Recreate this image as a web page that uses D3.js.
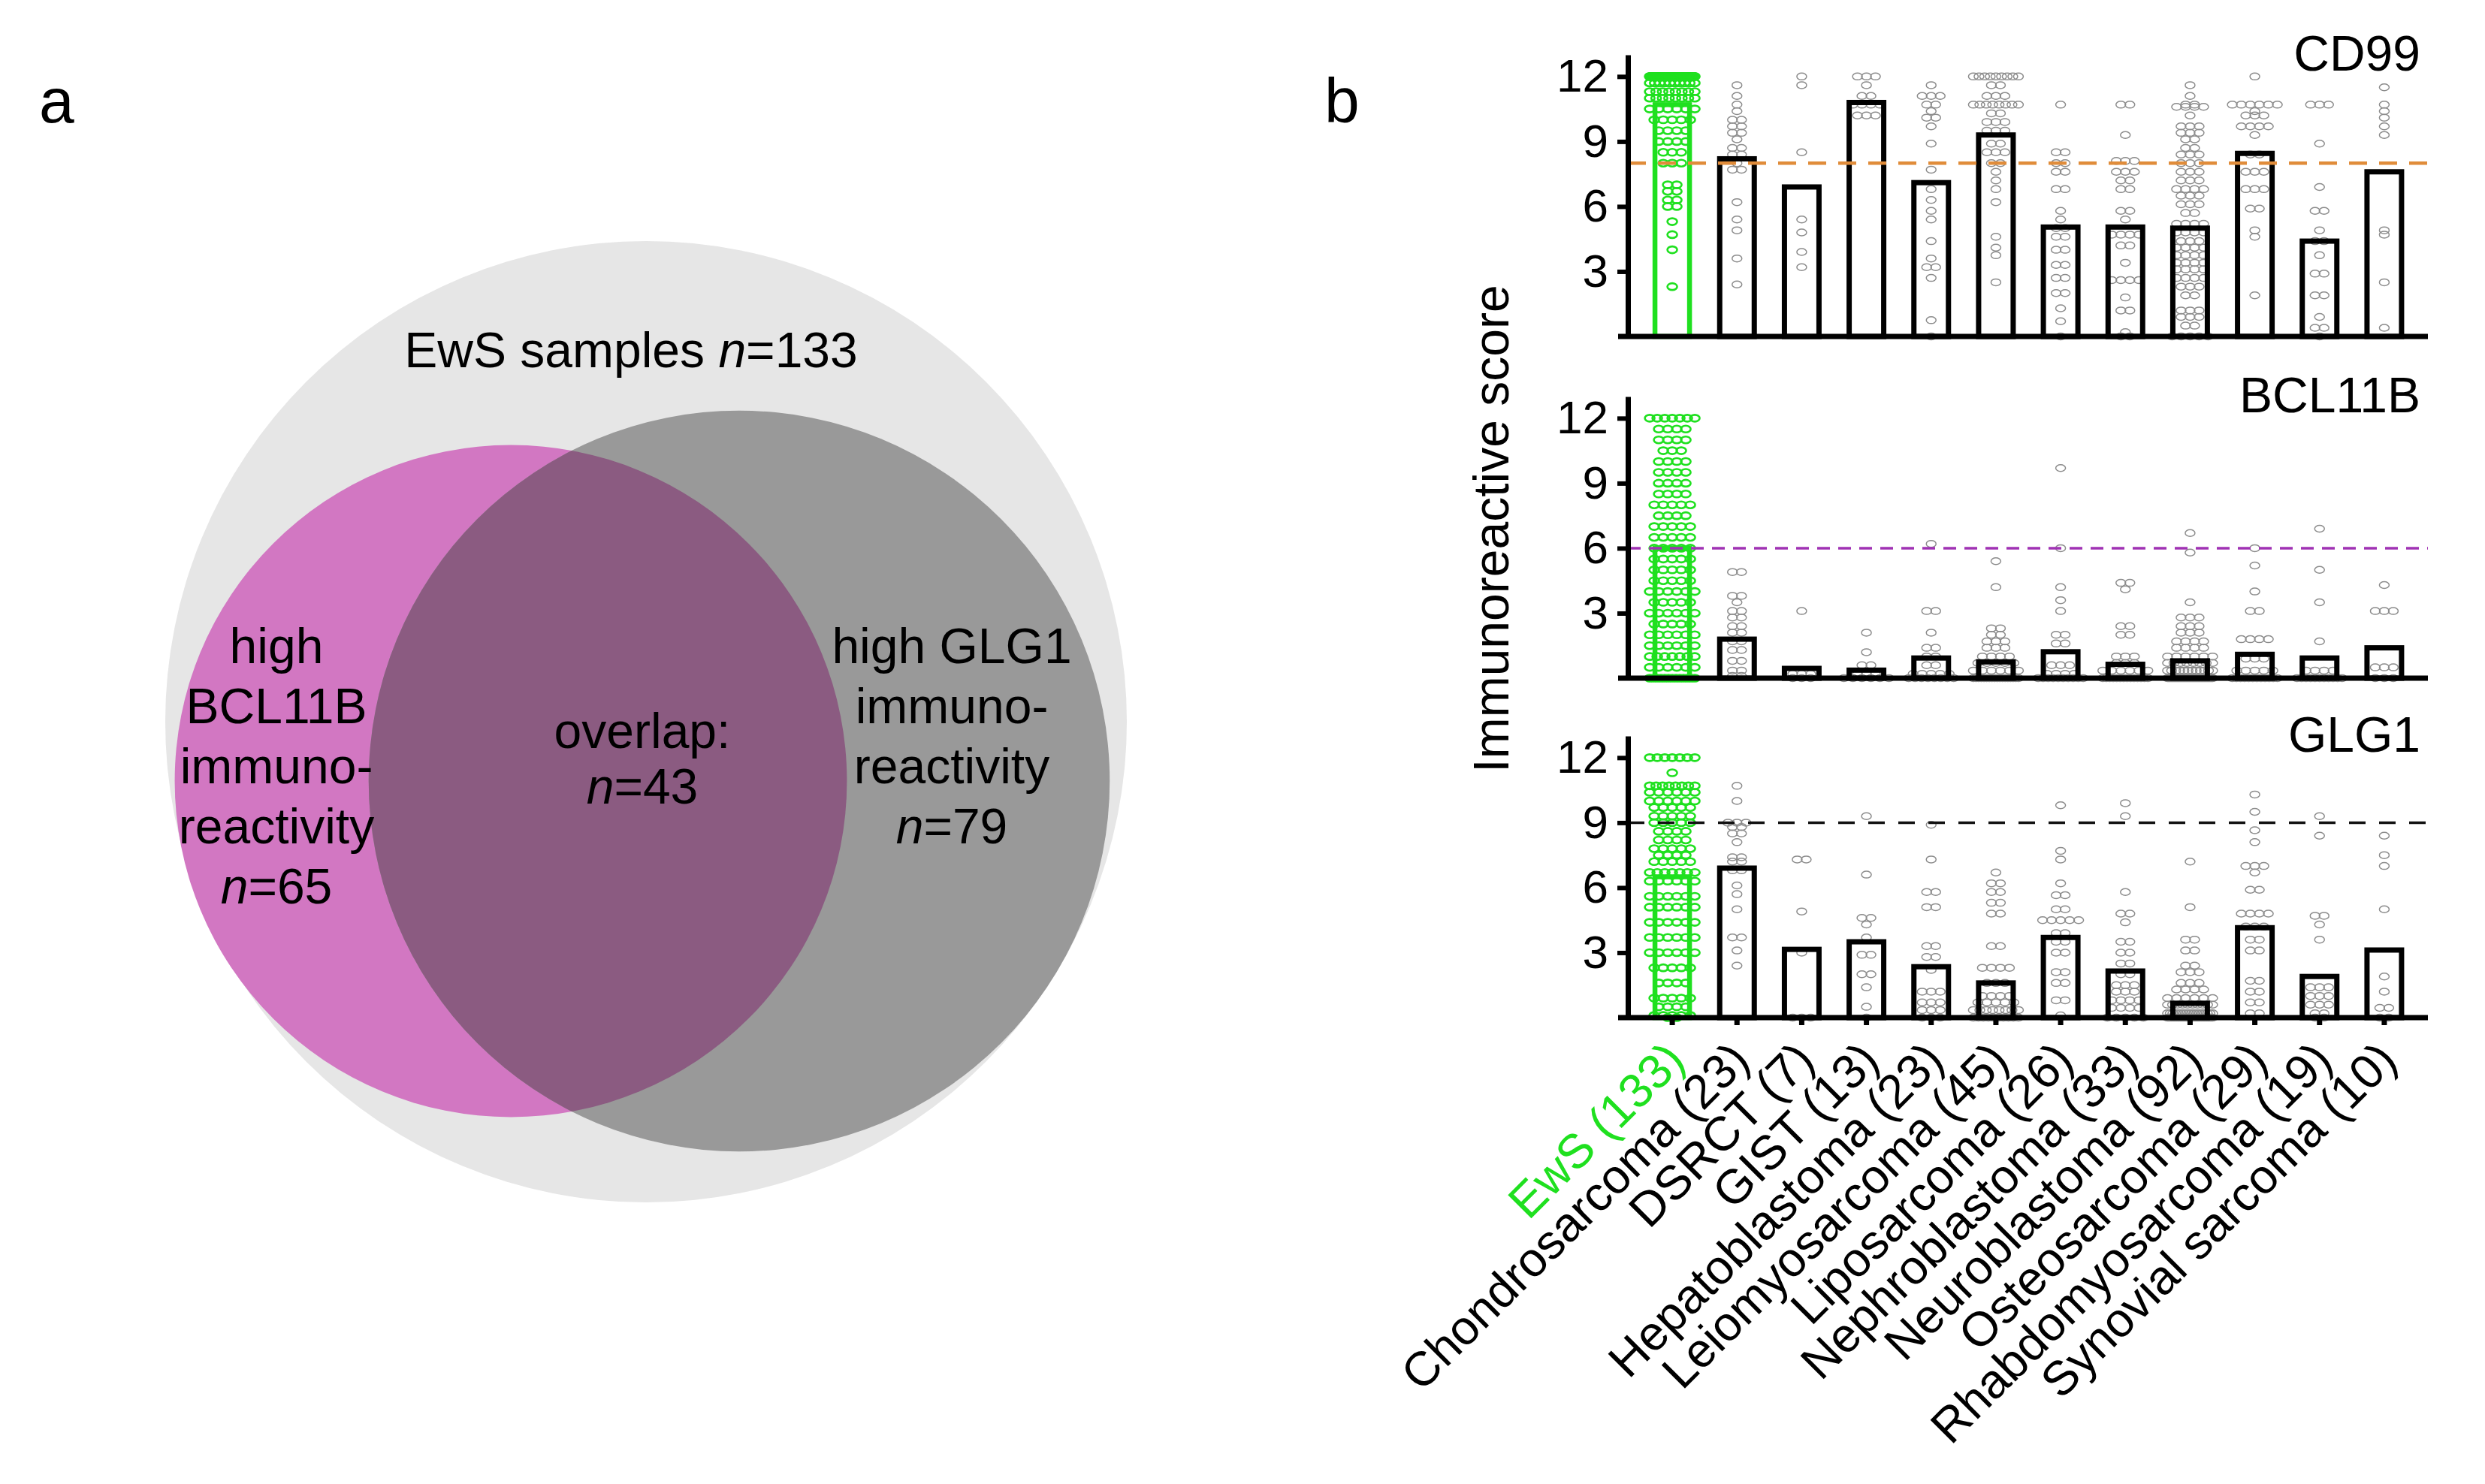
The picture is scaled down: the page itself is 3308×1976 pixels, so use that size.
<!DOCTYPE html>
<html>
<head>
<meta charset="utf-8">
<script src="https://cdn.jsdelivr.net/npm/d3@7"></script>
<style>
  body { margin: 0; background: #fff; }
  text { font-family: "Liberation Sans", Arial, sans-serif; }
</style>
</head>
<body>
<div id="chart"></div>
<script>
// ---------- data ----------
// panel a: venn counts
var vennTotal = 133;
var vennBcl11b = 65;
var vennGlg1 = 79;
var vennOverlap = 43;

// panel b: categories and sample numbers
var categories = ["EwS", "Chondrosarcoma", "DSRCT", "GIST", "Hepatoblastoma", "Leiomyosarcoma",
  "Liposarcoma", "Nephroblastoma", "Neuroblastoma", "Osteosarcoma", "Rhabdomyosarcoma", "Synovial sarcoma"];
var sampleCounts = [133, 23, 7, 13, 23, 45, 26, 33, 92, 29, 19, 10];
var markers = ["CD99", "BCL11B", "GLG1"];
var thresholds = [8, 6, 9];
var yTicks = [3, 6, 9, 12];

// mean immunoreactive score per category (bar heights)
var cd99Means = [10.7, 8.2, 6.9, 10.8, 7.1, 9.3, 5.05, 5.05, 5.0, 8.45, 4.4, 7.6];
var bcl11bMeans = [6.0, 1.8, 0.45, 0.37, 0.93, 0.75, 1.22, 0.64, 0.8, 1.1, 0.93, 1.4];
var glg1Means = [6.5, 6.9, 3.15, 3.5, 2.35, 1.6, 3.7, 2.15, 0.66, 4.15, 1.9, 3.12];

// individual scores, as [score, number of samples] per category
var cd99Scores = [
  [[12,70],[11.7,10],[11.3,8],[11,8],[10.5,6],[10,5],[9.5,4],[9,4],[8.5,3],[8,3],[7,2],[6.7,2],[6.3,2],[6,2],[5.3,1],[4.7,1],[4,1],[2.3,1]],
  [[11.6,1],[11.1,1],[10.7,1],[10.4,1],[10,2],[9.7,2],[9.4,2],[9.1,1],[8.7,2],[8.4,2],[8,1],[7.7,2],[6.2,1],[5.4,1],[4.9,1],[3.6,1],[2.4,1]],
  [[12,1],[11.6,1],[8.5,1],[5.4,1],[4.8,1],[3.9,1],[3.2,1]],
  [[12,3],[11.6,1],[11.1,2],[10.7,4],[10.2,3]],
  [[11.6,1],[11.1,3],[10.7,2],[10.4,1],[10.1,2],[9.7,1],[8.9,1],[7.7,1],[6.8,1],[6.3,1],[5.8,1],[5.4,1],[4.4,1],[3.6,1],[3.2,2],[2.7,1],[0.75,1],[0,1]],
  [[12,9],[11.6,2],[11.1,3],[10.7,8],[10.3,2],[9.9,3],[9.5,3],[8.9,2],[8.5,3],[8,2],[7.6,1],[7.2,1],[6.8,1],[6.2,1],[4.6,1],[4.1,1],[3.75,1],[2.5,1]],
  [[10.7,1],[8.5,2],[8,2],[7.6,2],[6.8,2],[5.8,1],[5.4,1],[5,2],[4.6,2],[4,2],[3.3,2],[2.7,2],[2,2],[1.3,1],[0.7,1],[0,1]],
  [[10.7,2],[9.3,1],[8.1,3],[7.6,3],[7.2,2],[6.8,2],[5.8,2],[5.4,1],[4.7,4],[4.2,2],[3.4,1],[2.6,4],[1.8,1],[1.2,2],[0.2,1],[0,2]],
  [[11.6,1],[11.1,1],[10.7,2],[10.6,4],[10.2,1],[9.7,3],[9.4,3],[9.1,2],[8.7,2],[8.4,3],[8,3],[7.6,3],[7.2,3],[6.8,4],[6.5,3],[6.1,3],[5.7,2],[5.2,4],[4.8,4],[4.4,3],[4.1,4],[3.75,4],[3.4,4],[3.1,4],[2.7,4],[2.3,3],[1.9,2],[1.2,3],[0.9,3],[0.5,2],[0,5]],
  [[12,1],[10.7,6],[10.4,1],[10.2,3],[9.7,4],[9.3,1],[8.4,2],[7.6,3],[6.8,3],[5.9,2],[4.9,1],[4.6,1],[1.9,1]],
  [[10.7,3],[8.9,1],[6.9,1],[5.8,2],[4.9,1],[4.4,2],[3.75,1],[2.9,2],[1.9,2],[0.9,1],[0.4,2],[0,1]],
  [[11.5,1],[10.7,1],[10.4,1],[10.1,1],[9.7,1],[9.3,1],[4.9,1],[4.7,1],[2.5,1],[0.4,1]]
];
var bcl11bScores = [
  [[12,7],[11.5,4],[11,4],[10.5,3],[10,4],[9.5,4],[9,4],[8.5,4],[8,5],[7.5,4],[7,5],[6.5,5],[6,5],[5.5,5],[5,5],[4.5,5],[4,6],[3.5,5],[3,6],[2.5,5],[2,6],[1.5,6],[1,7],[0.5,6],[0,13]],
  [[4.9,2],[3.8,2],[3.5,1],[3.1,2],[2.8,2],[2.4,2],[2.1,2],[1.7,2],[1.3,2],[0.8,2],[0.35,2],[0.1,2]],
  [[3.1,1],[0.2,3],[0,3]],
  [[2.1,1],[1.2,1],[0.6,2],[0.2,3],[0,6]],
  [[6.2,1],[3.1,2],[2.1,1],[1.4,2],[1,2],[0.6,2],[0.2,5],[0,8]],
  [[5.4,1],[4.2,1],[2.3,2],[2,2],[1.7,3],[1.4,3],[1,4],[0.7,5],[0.35,6],[0,18]],
  [[9.7,1],[6,1],[4.2,1],[3.6,1],[3.1,1],[2,2],[1.6,2],[0.6,3],[0.2,4],[0,10]],
  [[4.4,2],[4.1,1],[2.4,2],[2,2],[1,3],[0.7,3],[0.35,6],[0,14]],
  [[6.7,1],[5.8,1],[3.5,1],[2.8,3],[2.4,3],[2.1,3],[1.7,4],[1.4,4],[1,6],[0.7,8],[0.35,12],[0,46]],
  [[6,1],[5.2,1],[4,1],[3.1,2],[1.8,4],[0.9,3],[0.35,5],[0,12]],
  [[6.9,1],[5,1],[3.5,1],[1.7,1],[0.35,4],[0,11]],
  [[4.3,1],[3.1,3],[0.5,3],[0,3]]
];
var glg1Scores = [
  [[12,7],[11.3,1],[10.7,8],[10.4,6],[10,6],[9.7,5],[9.3,5],[9,5],[8.6,4],[8.2,4],[7.8,5],[7.5,4],[7.2,5],[6.7,7],[6.3,6],[5.6,6],[5.1,6],[4.4,6],[3.7,6],[3,6],[2.3,5],[1.6,4],[0.9,5],[0.5,4],[0.1,5],[0,2]],
  [[10.7,1],[10,1],[9,3],[8.8,2],[8.5,2],[8.1,1],[7.4,2],[7.2,2],[6.8,2],[6.1,1],[5.7,1],[5,1],[3.7,2],[3.1,1],[2.4,1]],
  [[7.3,2],[4.9,1],[3,1],[0,3]],
  [[9.3,1],[6.6,1],[4.6,2],[4.3,1],[3.7,1],[2.9,2],[2,2],[1.4,1],[0.5,1],[0,1]],
  [[8.9,1],[7.3,1],[5.8,2],[5.1,2],[3.3,2],[2.8,2],[2.2,1],[1.2,3],[0.7,3],[0.35,3],[0,3]],
  [[6.7,1],[6.2,2],[5.8,2],[5.3,2],[4.8,2],[3.3,2],[2.3,4],[1.6,3],[1,4],[0.7,5],[0.35,8],[0,10]],
  [[9.8,1],[7.7,1],[7.3,1],[6.2,1],[5.65,2],[5,2],[4.5,5],[3.9,2],[3.5,2],[3,2],[2.1,2],[1.6,2],[0.8,2],[0.1,1]],
  [[9.9,1],[9.3,1],[5.8,1],[4.8,2],[4.4,1],[3.5,2],[3,2],[2.5,2],[2,2],[1.5,3],[1.2,3],[0.8,4],[0.45,4],[0,5]],
  [[7.2,1],[5.1,1],[3.6,2],[3.1,2],[2.4,2],[2.1,3],[1.6,3],[1.3,4],[0.9,6],[0.6,10],[0.2,18],[0,40]],
  [[10.3,1],[9.5,1],[8.65,1],[8.1,1],[7,3],[6.7,1],[5.9,2],[4.8,4],[4.2,3],[3.6,2],[3.1,2],[1.7,2],[1.2,2],[0.7,2],[0.2,2]],
  [[9.3,1],[8.4,1],[4.7,2],[4.3,1],[3.6,1],[1.4,3],[1,3],[0.6,3],[0.2,2],[0,2]],
  [[8.4,1],[7.5,1],[7,1],[5,1],[1.9,1],[1.2,1],[0.45,2],[0,2]]
];

var panelMeans = [cd99Means, bcl11bMeans, glg1Means];
var panelScores = [cd99Scores, bcl11bScores, glg1Scores];

// ---------- layout ----------
var svgWidth = 3308;
var svgHeight = 1976;
var ewsGreen = "#1fe01f";
var thresholdColors = ["#e08c3a", "#a032b4", "#111111"];
var thresholdDash = ["24,16", "17,11", "22,18"];

var svg = d3.select("#chart")
  .append("svg")
  .attr("width", svgWidth)
  .attr("height", svgHeight);

// ---------- panel a: venn ----------
var rScale = d3.scaleSqrt().domain([0, vennTotal]).range([0, 640]);

var venn = svg.append("g");

venn.append("circle")
  .attr("cx", 860).attr("cy", 961)
  .attr("r", rScale(vennTotal))
  .attr("fill", "#e6e6e6");

venn.append("defs").append("clipPath")
  .attr("id", "glgClip")
  .append("circle")
  .attr("cx", 984).attr("cy", 1040)
  .attr("r", rScale(vennGlg1));

venn.append("circle")
  .attr("cx", 680).attr("cy", 1040)
  .attr("r", rScale(vennBcl11b))
  .attr("fill", "#d277c2");

venn.append("circle")
  .attr("cx", 984).attr("cy", 1040)
  .attr("r", rScale(vennGlg1))
  .attr("fill", "#999999");

// overlap region
venn.append("circle")
  .attr("cx", 680).attr("cy", 1040)
  .attr("r", rScale(vennBcl11b))
  .attr("clip-path", "url(#glgClip)")
  .attr("fill", "#8b5b81");

function addLines(g, x, y0, lines) {
  lines.forEach(function(parts, i) {
    var t = g.append("text")
      .attr("x", x)
      .attr("y", y0 + i * 80)
      .attr("dy", "0.35em")
      .attr("text-anchor", "middle")
      .attr("font-size", 66)
      .attr("fill", "#000");
    parts.forEach(function(p) {
      t.append("tspan")
        .attr("font-style", p.italic ? "italic" : "normal")
        .text(p.s);
    });
  });
}

addLines(venn, 840, 466, [[{s: "EwS samples "}, {s: "n", italic: true}, {s: "=" + vennTotal}]]);
addLines(venn, 368, 860, [
  [{s: "high"}], [{s: "BCL11B"}], [{s: "immuno-"}], [{s: "reactivity"}],
  [{s: "n", italic: true}, {s: "=" + vennBcl11b}]
]);
addLines(venn, 1267, 860, [
  [{s: "high GLG1"}], [{s: "immuno-"}], [{s: "reactivity"}],
  [{s: "n", italic: true}, {s: "=" + vennGlg1}]
]);
addLines(venn, 855, 973, [[{s: "overlap:"}]]);
addLines(venn, 855, 1047, [[{s: "n", italic: true}, {s: "=" + vennOverlap}]]);

// panel letters
svg.append("text").attr("x", 52).attr("y", 163).attr("font-size", 84).text("a");
svg.append("text").attr("x", 1763).attr("y", 163).attr("font-size", 84).text("b");

// ---------- panel b: bar + dot plots ----------
var axisX = 2167;
var axisRight = 3232;
var panelZeros = [448, 903, 1355];
var panelSpan = 375;   // pixels for 13 score units

var xScale = d3.scaleBand()
  .domain(categories)
  .range([2183, 3217]);

var barW = 46;

panelZeros.forEach(function(zero, p) {
  var yScale = d3.scaleLinear()
    .domain([0, 13])
    .range([zero, zero - panelSpan]);

  var g = svg.append("g");

  // dots, spread sideways at each score level
  var dots = [];
  panelScores[p].forEach(function(levels, ci) {
    var cx = xScale(categories[ci]) + xScale.bandwidth() / 2;
    levels.forEach(function(lv) {
      var k = lv[1];
      var step = k > 1 ? Math.min(12, 60 / (k - 1)) : 0;
      for (var j = 0; j < k; j++) {
        dots.push({
          x: cx + (j - (k - 1) / 2) * step,
          v: lv[0],
          ews: ci === 0
        });
      }
    });
  });

  g.selectAll("ellipse.dot")
    .data(dots)
    .enter()
    .append("ellipse")
    .attr("class", "dot")
    .attr("cx", d => d.x)
    .attr("cy", d => yScale(d.v))
    .attr("rx", 6.5)
    .attr("ry", 4.5)
    .attr("fill", "none")
    .attr("stroke", d => d.ews ? ewsGreen : "#8c8c8c")
    .attr("stroke-width", d => d.ews ? 2.6 : 1.5);

  // bars
  g.selectAll("rect.bar")
    .data(panelMeans[p])
    .enter()
    .append("rect")
    .attr("class", "bar")
    .attr("x", (d, i) => xScale(categories[i]) + (xScale.bandwidth() - barW) / 2)
    .attr("y", d => yScale(d))
    .attr("width", barW)
    .attr("height", d => zero - yScale(d))
    .attr("fill", "none")
    .attr("stroke", (d, i) => i === 0 ? ewsGreen : "#000")
    .attr("stroke-width", (d, i) => i === 0 ? 6.5 : 7);

  // threshold line
  g.append("line")
    .attr("x1", axisX).attr("x2", axisRight)
    .attr("y1", yScale(thresholds[p])).attr("y2", yScale(thresholds[p]))
    .attr("stroke", thresholdColors[p])
    .attr("stroke-width", p === 0 ? 4.5 : 3.5)
    .attr("stroke-dasharray", thresholdDash[p]);

  // y axis
  var yAxis = d3.axisLeft(yScale)
    .tickValues(yTicks)
    .tickSize(14)
    .tickSizeOuter(0)
    .tickPadding(12);

  var ya = g.append("g")
    .attr("transform", `translate(${axisX},0)`)
    .call(yAxis);
  ya.select(".domain").attr("stroke-width", 7).attr("stroke", "#000");
  ya.selectAll(".tick line").attr("stroke-width", 6).attr("stroke", "#000");
  ya.selectAll(".tick text")
    .attr("font-size", 62)
    .attr("font-family", "'Liberation Sans', Arial, sans-serif")
    .attr("fill", "#000");

  // baseline
  g.append("line")
    .attr("x1", axisX - 13).attr("x2", axisRight)
    .attr("y1", zero).attr("y2", zero)
    .attr("stroke", "#000")
    .attr("stroke-width", 7);

  // marker title
  g.append("text")
    .attr("x", 3222)
    .attr("y", zero - 354)
    .attr("text-anchor", "end")
    .attr("font-size", 66)
    .text(markers[p]);

  // category axis on the bottom panel
  if (p === 2) {
    var xAxis = d3.axisBottom(xScale)
      .tickSize(10)
      .tickSizeOuter(0)
      .tickFormat((d, i) => d + " (" + sampleCounts[i] + ")");

    var xa = g.append("g")
      .attr("transform", `translate(0,${zero})`)
      .call(xAxis);
    xa.select(".domain").remove();
    xa.selectAll(".tick line").attr("stroke-width", 7).attr("stroke", "#000");
    xa.selectAll(".tick text")
      .attr("x", 0).attr("y", 0)
      .attr("dy", "0.35em")
      .attr("transform", "translate(4,44) rotate(-45)")
      .attr("text-anchor", "end")
      .attr("font-size", 64)
      .attr("font-family", "'Liberation Sans', Arial, sans-serif")
      .attr("fill", (d, i) => i === 0 ? ewsGreen : "#000");
  }
});

// shared y label
svg.append("text")
  .attr("transform", "translate(2008,704) rotate(-90)")
  .attr("text-anchor", "middle")
  .attr("font-size", 66)
  .text("Immunoreactive score");
</script>
</body>
</html>
